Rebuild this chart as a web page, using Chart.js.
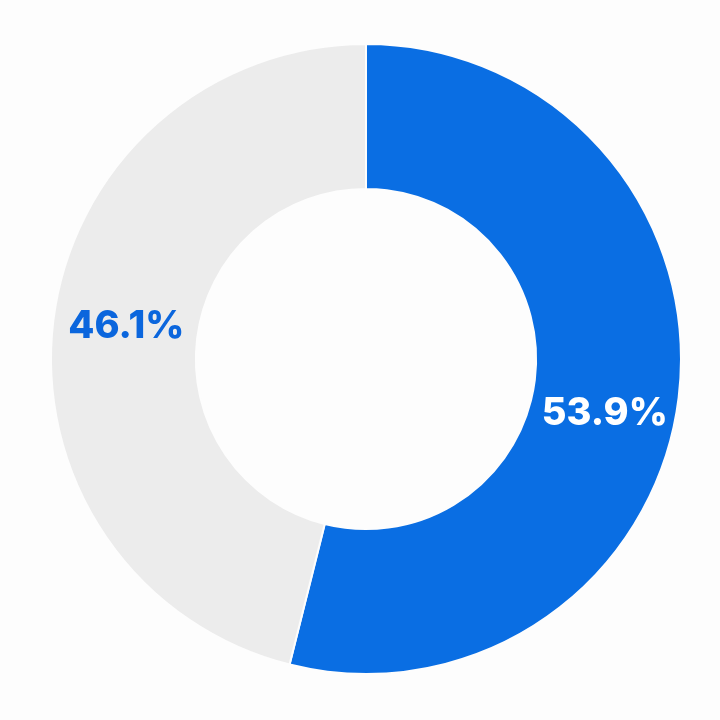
<!DOCTYPE html>
<html>
<head>
<meta charset="utf-8">
<script src="https://cdn.jsdelivr.net/npm/chart.js@4"></script>
<style>
  html, body { margin: 0; padding: 0; background: #fdfdfd; }
  #wrap { width: 720px; height: 720px; }
</style>
</head>
<body>
<div id="wrap"><canvas id="chart"></canvas></div>
<script>
const categories = ["A", "B"];
const values = [53.9, 46.1];
const sliceColors = ["#0a6ee3", "#ececec"];
const labelColors = ["#ffffff", "#0b66dd"];

// nudge per label, the reference doesn't sit them exactly at arc centre
const labelNudge = [[-2, 25], [1, -3]];

const pctLabels = {
  id: "pctLabels",
  afterDatasetsDraw(chart) {
    const { ctx } = chart;
    const meta = chart.getDatasetMeta(0);
    ctx.save();
    ctx.font = "800 38px Inter, 'Noto Sans', sans-serif";
    ctx.textAlign = "center";
    ctx.textBaseline = "middle";
    meta.data.forEach((arc, i) => {
      const p = arc.getCenterPoint();
      ctx.fillStyle = labelColors[i];
      ctx.fillText(values[i].toFixed(1) + "%", p.x + labelNudge[i][0], p.y + labelNudge[i][1]);
    });
    ctx.restore();
  }
};

new Chart(document.getElementById("chart").getContext("2d"), {
  type: "doughnut",
  data: {
    labels: categories,
    datasets: [{
      data: values,
      backgroundColor: sliceColors,
      borderColor: "#fdfdfd",
      borderWidth: 2,
      hoverOffset: 0
    }]
  },
  options: {
    responsive: true,
    maintainAspectRatio: false,
    animation: false,
    cutout: "54%",
    layout: { padding: { left: 50, right: 38, top: 43, bottom: 45 } },
    plugins: {
      legend: { display: false },
      tooltip: { enabled: false }
    }
  },
  plugins: [pctLabels]
});
</script>
</body>
</html>
